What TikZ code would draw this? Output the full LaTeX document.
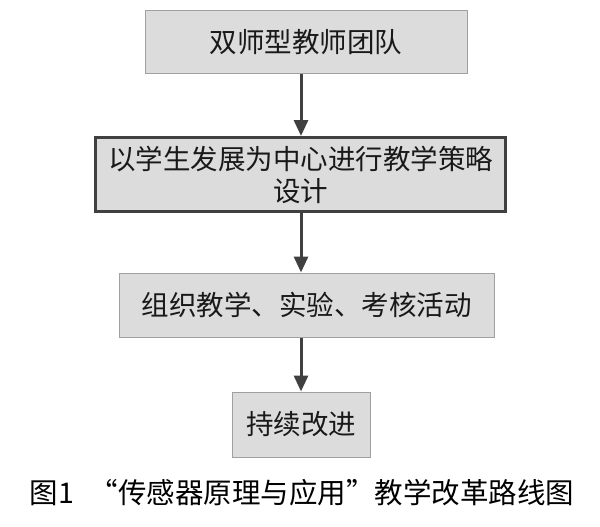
\documentclass[tikz,border=0pt]{standalone}
\usepackage{fontspec}
\usepackage{tikz}
\usetikzlibrary{arrows.meta}
\newfontfamily\cjk{Noto Sans CJK SC}
\definecolor{boxfill}{RGB}{220,220,220}
\definecolor{boxline}{RGB}{160,160,160}
\definecolor{arrowgray}{RGB}{64,64,64}

\begin{document}
\begin{tikzpicture}[x=1pt,y=-1pt,
        stepbox/.style={draw=boxline,line width=1pt,fill=boxfill,
            text=black!90,font=\cjk\fontsize{27.5}{32}\selectfont,
            inner sep=0pt,align=center},
        keybox/.style={stepbox,draw=arrowgray,line width=3pt},
        arr/.style={draw=arrowgray,line width=3pt,
            -{Triangle[width=14pt,length=16pt]}}]
        \useasboundingbox (0,0) rectangle (600,527);

        \coordinate (P1) at (306,42.5);
        \coordinate (P2) at (300.5,174.5);
        \coordinate (P3) at (306.5,305);
        \coordinate (P4) at (301,424.5);
        \coordinate (T) at (302,493);

        \node[stepbox,minimum width=322pt,minimum height=63pt] (team) at (P1) {双师型教师团队};
        \node[keybox,minimum width=410pt,minimum height=74pt,text width=400pt] (design) at (P2) {以学生发展为中心进行教学策略\\设计};
        \node[stepbox,minimum width=375pt,minimum height=64pt] (activity) at (P3) {组织教学、实验、考核活动};
        \node[stepbox,minimum width=138pt,minimum height=65pt] (improve) at (P4) {持续改进};

        \draw[arr] (team.south -| improve) -- (design.north -| improve);
        \draw[arr] (design.south -| improve) -- (activity.north -| improve);
        \draw[arr] (activity.south -| improve) -- (improve.north);

        \node[font=\cjk\fontsize{28.5}{32}\selectfont,text=black] (caption) at (T) {图1\hspace{16pt}“传感器原理与应用”教学改革路线图};

    \end{tikzpicture}
\end{document}
